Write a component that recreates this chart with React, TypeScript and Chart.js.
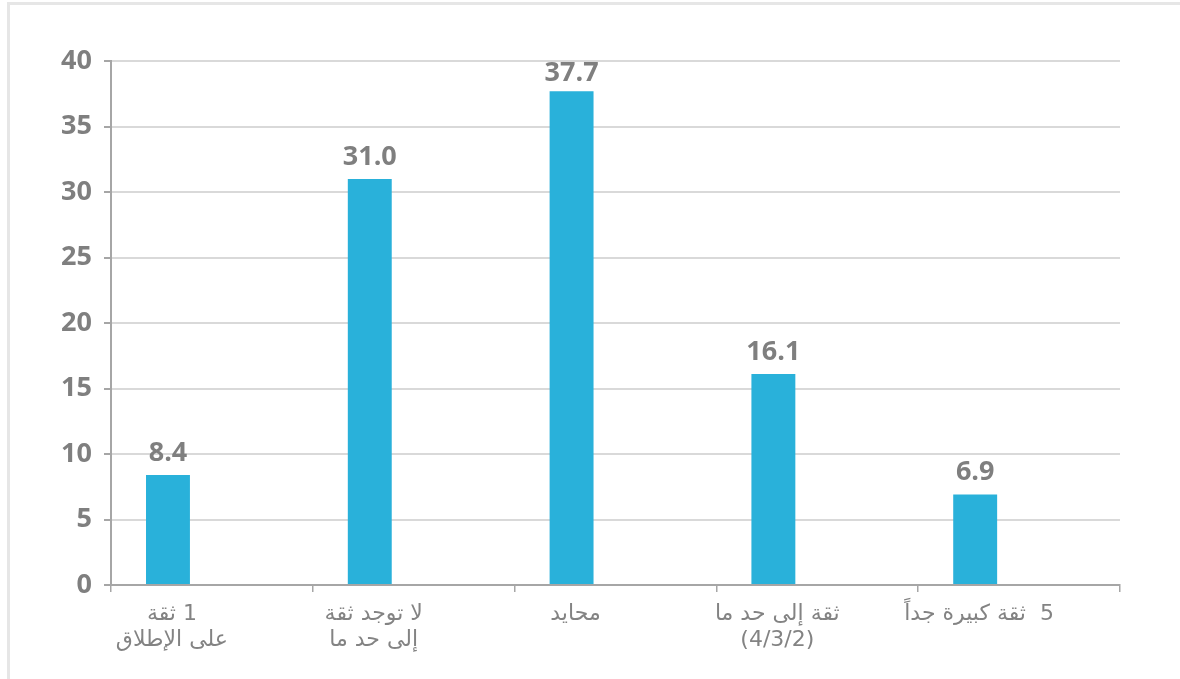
import React, { useEffect, useRef } from "react";
import { Chart, registerables } from "chart.js";

Chart.register(...registerables);

const categories: string[][] = [
  ["1 ثقة", "على الإطلاق"],
  ["لا توجد ثقة", "إلى حد ما"],
  ["محايد"],
  ["ثقة إلى حد ما", "(4/3/2)"],
  ["5  ثقة كبيرة جداً"],
];
const values: number[] = [8.4, 31.0, 37.7, 16.1, 6.9];
const emptySeries: number[] = [];
const yTicks: number[] = [0, 5, 10, 15, 20, 25, 30, 35, 40];

const GREY = "#7f7f7f";

const valueLabels = {
  id: "valueLabels",
  beforeDraw(chart: any) {
    chart.ctx.direction = "rtl";
  },
  afterDatasetsDraw(chart: any) {
    const ctx = chart.ctx;
    const meta = chart.getDatasetMeta(0);
    ctx.save();
    ctx.font = "bold 27px 'Open Sans'";
    ctx.fillStyle = GREY;
    ctx.textAlign = "center";
    ctx.textBaseline = "middle";
    meta.data.forEach((bar: any, i: number) => {
      const y = Math.max(bar.y - 22, chart.chartArea.top + 12);
      ctx.fillText(values[i].toFixed(1), bar.x, y);
    });
    ctx.restore();
  },
};

export default function App() {
  const ref = useRef<HTMLCanvasElement>(null);
  useEffect(() => {
    if (!ref.current) return;
    const chart = new Chart(ref.current, {
      type: "bar",
      data: {
        labels: categories,
        datasets: [
          { data: values, backgroundColor: "#29b1da", barPercentage: 1, categoryPercentage: 0.653 },
          { data: emptySeries, backgroundColor: "#29b1da", barPercentage: 1, categoryPercentage: 0.653 },
          { data: emptySeries, backgroundColor: "#29b1da", barPercentage: 1, categoryPercentage: 0.653 },
        ],
      },
      options: {
        responsive: false,
        animation: false,
        layout: { padding: { top: 61, right: 60, left: 0, bottom: 0 } },
        plugins: { legend: { display: false }, tooltip: { enabled: false } },
        scales: {
          x: {
            offset: true,
            grid: {
              offset: true,
              drawOnChartArea: false,
              drawTicks: true,
              tickLength: 7,
              color: "#a6a6a6",
              lineWidth: 1.5,
            },
            border: { color: "#a6a6a6", width: 2 },
            ticks: {
              color: "#838383",
              labelOffset: -40,
              padding: 10,
              maxRotation: 0,
              autoSkip: false,
              font: { family: "'DejaVu Sans'", size: 22, lineHeight: 1.15 },
            },
            afterFit(scale: any) {
              scale.height = 94;
            },
          },
          y: {
            min: 0,
            max: 40,
            afterBuildTicks(scale: any) {
              scale.ticks = yTicks.map((v) => ({ value: v }));
            },
            grid: {
              color: "#d9d9d9",
              lineWidth: 2,
              tickLength: 7,
              tickColor: "#a6a6a6",
            },
            border: { color: "#a6a6a6", width: 2 },
            ticks: {
              color: GREY,
              padding: 12,
              font: { family: "'Open Sans'", size: 27, weight: "bold" },
            },
            afterFit(scale: any) {
              scale.width = 111;
            },
          },
        },
      },
      plugins: [valueLabels],
    } as any);
    return () => chart.destroy();
  }, []);
  return (
    <div style={{ position: "fixed", left: 0, top: 0, width: 1180, height: 679, overflow: "hidden" }}>
      <div
        style={{
          position: "absolute",
          left: 7,
          top: 2,
          width: 1173,
          height: 677,
          borderTop: "3px solid #e6e6e6",
          borderLeft: "3px solid #e6e6e6",
          boxSizing: "border-box",
        }}
      />
      <canvas
        ref={ref}
        width={1180}
        height={679}
        dir="rtl"
        style={{ position: "absolute", left: 0, top: 0, display: "block" }}
      />
    </div>
  );
}
